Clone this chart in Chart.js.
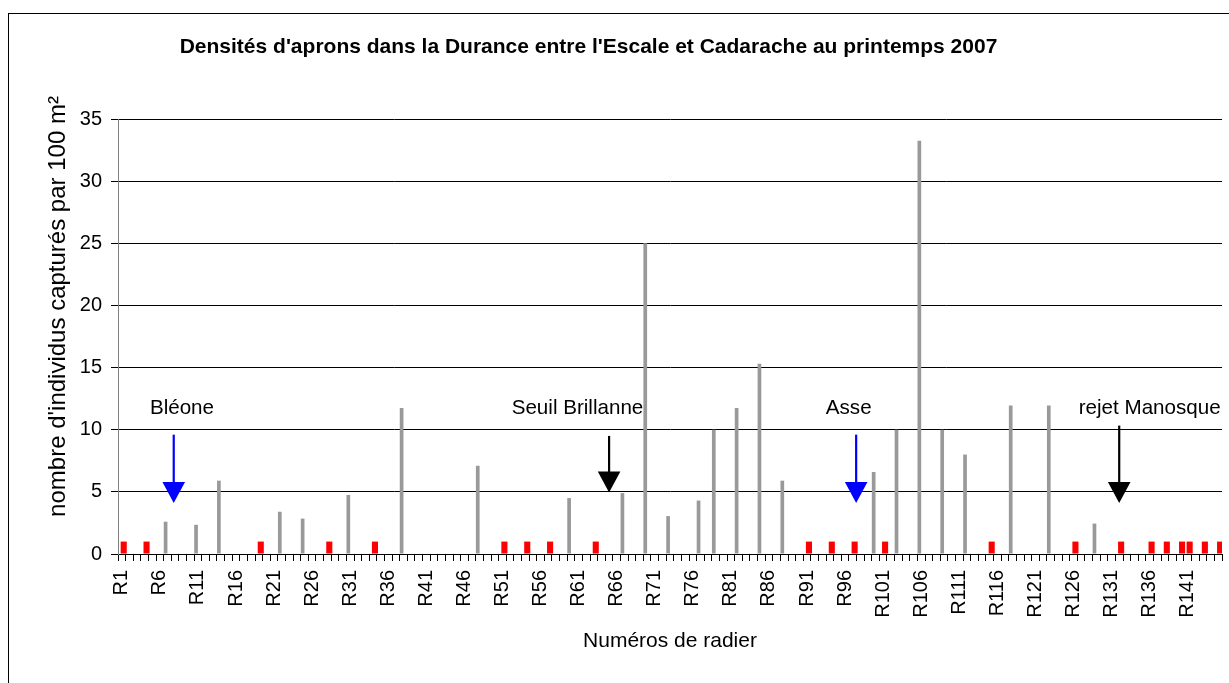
<!DOCTYPE html>
<html>
<head>
<meta charset="utf-8">
<script src="https://cdn.jsdelivr.net/npm/chart.js@4.4.1/dist/chart.umd.min.js"></script>
<style>
  body { margin: 0; background: #fff; overflow: hidden; }
  #frame { position: absolute; left: 8px; top: 13px; width: 1300px; height: 720px; border: 1px solid #000; }
  #wrap { position: absolute; left: -45px; top: 0; width: 1274px; height: 683px; }
</style>
</head>
<body>
<div id="frame"></div>
<div id="wrap"><canvas id="densityChart"></canvas></div>
<script>
// radier numbers R1..R145
const radierCount = 145;
const radierLabels = [];
for (let i = 1; i <= radierCount; i++) radierLabels.push("R" + i);

// radiers with captures (grey bars) and their densities
const captureRadiers = [7, 11, 14, 22, 25, 31, 38, 48, 60, 67, 70, 73, 77, 79, 82, 85, 88, 100, 103, 106, 109, 112, 118, 123, 129];
const captureValues = [2.6, 2.35, 5.9, 3.4, 2.85, 4.75, 11.75, 7.1, 4.5, 4.9, 25, 3.05, 4.3, 10, 11.75, 15.3, 5.9, 6.6, 10, 33.25, 10, 8, 11.95, 11.95, 2.45];

// radiers marked in red (value 1)
const redRadiers = [1, 4, 19, 28, 34, 51, 54, 57, 63, 91, 94, 97, 101, 115, 126, 132, 136, 138, 140, 141, 143, 145];
const redValue = 1;

// y axis ticks
const yMin = 0;
const yMax = 35;
const yStep = 5;

// annotations (x in category index, y in axis units)
const markLabels = ["Bléone", "Seuil Brillanne", "Asse", "rejet Manosque"];
const markTextX = [7.9, 59.85, 95.47, 135.0];
const markTextY = [11.75, 11.75, 11.75, 11.75];
const markArrowX = [6.82, 64.0, 96.45, 131.0];
const markArrowTop = [9.6, 9.5, 9.6, 10.33];
const markArrowTip = [4.1, 4.94, 4.1, 4.1];
const markColors = ["#0000FF", "#000000", "#0000FF", "#000000"];

const FONT = '"Liberation Sans", Arial, sans-serif';

function fillSeries(radiers, values) {
  const out = new Array(radierCount).fill(null);
  radiers.forEach((r, i) => { out[r - 1] = Array.isArray(values) ? values[i] : values; });
  return out;
}

// arrows and river names
const riverMarks = {
  id: "riverMarks",
  afterDatasetsDraw(chart) {
    const { ctx, scales: { x, y } } = chart;
    ctx.save();
    markLabels.forEach((txt, i) => {
      ctx.font = "20.6px " + FONT;
      ctx.textAlign = "center";
      ctx.textBaseline = "middle";
      ctx.fillStyle = "#000";
      ctx.fillText(txt, x.getPixelForValue(markTextX[i]), y.getPixelForValue(markTextY[i]));

      const ax = x.getPixelForValue(markArrowX[i]);
      const top = y.getPixelForValue(markArrowTop[i]);
      const tip = y.getPixelForValue(markArrowTip[i]);
      const headLen = 21;
      const half = 11.3;
      ctx.strokeStyle = markColors[i];
      ctx.fillStyle = markColors[i];
      ctx.lineWidth = 2.2;
      ctx.beginPath();
      ctx.moveTo(ax, top);
      ctx.lineTo(ax, tip - headLen + 1);
      ctx.stroke();
      ctx.beginPath();
      ctx.moveTo(ax - half, tip - headLen);
      ctx.lineTo(ax + half, tip - headLen);
      ctx.lineTo(ax, tip);
      ctx.closePath();
      ctx.fill();
    });
    ctx.restore();
  }
};

const ctx = document.getElementById("densityChart").getContext("2d");
new Chart(ctx, {
  type: "bar",
  data: {
    labels: radierLabels,
    datasets: [
      {
        label: "Densité",
        data: fillSeries(captureRadiers, captureValues),
        backgroundColor: "#999999",
        borderWidth: 0,
        categoryPercentage: 1,
        barPercentage: 0.97
      },
      {
        label: "Marque",
        data: fillSeries(redRadiers, redValue),
        backgroundColor: "#FF0000",
        borderWidth: 0,
        categoryPercentage: 1,
        barPercentage: 1.6
      }
    ]
  },
  options: {
    responsive: true,
    maintainAspectRatio: false,
    animation: false,
    layout: { padding: { left: 0, right: 7, top: 0, bottom: 0 } },
    plugins: {
      legend: { display: false },
      tooltip: { enabled: false },
      title: {
        display: true,
        text: "Densités d'aprons dans la Durance entre l'Escale et Cadarache au printemps 2007",
        color: "#000",
        font: { family: FONT, size: 21, weight: "bold" },
        padding: { top: 34.4, bottom: 59.4 }
      }
    },
    scales: {
      x: {
        grid: { display: true, drawOnChartArea: false, drawTicks: true, tickLength: 7, color: "#000" },
        border: { color: "#000", width: 1 },
        ticks: {
          autoSkip: false,
          minRotation: 90,
          maxRotation: 90,
          padding: 9,
          color: "#000",
          font: { family: FONT, size: 20 },
          callback: function (v, i) { return i % 5 === 0 ? this.getLabelForValue(v) : ""; }
        },
        title: {
          display: true,
          text: "Numéros de radier",
          color: "#000",
          font: { family: FONT, size: 21 },
          padding: { top: 0, bottom: 29 }
        },
        afterFit(scale) {
          scale.height = 129;
          scale.paddingLeft = 0;
          scale.paddingRight = 0;
        }
      },
      y: {
        min: yMin,
        max: yMax,
        grid: { color: "#000", lineWidth: 1, tickLength: 7 },
        border: { color: "#808080", width: 1 },
        ticks: {
          stepSize: yStep,
          padding: 9,
          color: "#000",
          font: { family: FONT, size: 20 }
        },
        title: {
          display: true,
          // leading spaces push the text up, as in the source chart
          text: "         nombre d'individus capturés par 100 m²",
          color: "#000",
          font: { family: FONT, size: 24 },
          padding: { top: 88.6, bottom: 0 }
        },
        afterFit(scale) {
          scale.width = 163;
        }
      }
    }
  },
  plugins: [riverMarks]
});
</script>
</body>
</html>
